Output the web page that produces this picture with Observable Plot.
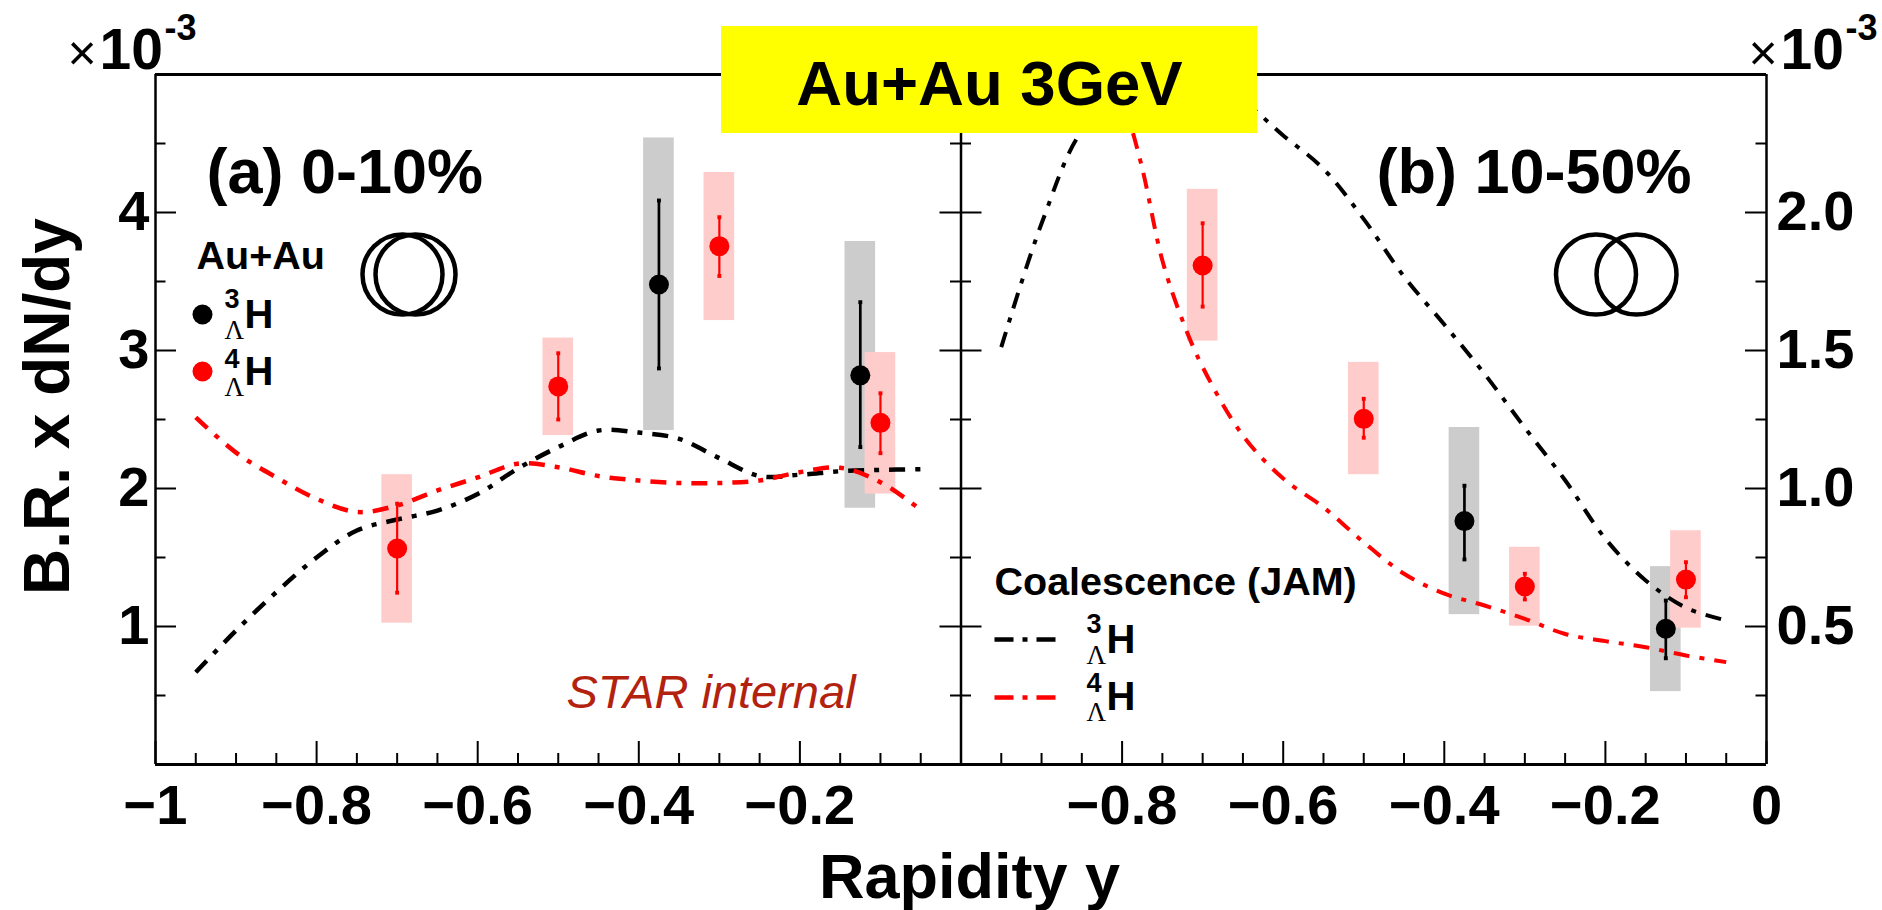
<!DOCTYPE html>
<html>
<head>
<meta charset="utf-8">
<style>
html,body{margin:0;padding:0;background:#fff}
svg{display:block}
</style>
<script src="https://cdn.jsdelivr.net/npm/d3@7"></script>
<script src="https://cdn.jsdelivr.net/npm/@observablehq/plot@0.6"></script>
</head>
<body>
<script>
// Curve rapidity grid
const gridA = [-0.95,-0.9,-0.85,-0.8,-0.75,-0.7,-0.65,-0.6,-0.55,-0.5,-0.45,-0.4,-0.35,-0.3,-0.25,-0.2,-0.15,-0.1,-0.05];
// Panel (a) JAM curves, units of 1e-3 on the left axis
const curveA3 = [0.669,0.971,1.249,1.50,1.696,1.775,1.84,1.96,2.145,2.30,2.42,2.405,2.36,2.22,2.09,2.10,2.125,2.135,2.14];
const curveA4 = [2.516,2.26,2.08,1.925,1.83,1.877,1.986,2.08,2.18,2.154,2.09,2.058,2.04,2.04,2.058,2.118,2.15,2.046,1.845];
// Panel (b) JAM curves, units of 1e-3 on the right axis
const gridB3 = [-0.95,-0.9,-0.85,-0.8,-0.75,-0.7,-0.65,-0.6,-0.55,-0.5,-0.45,-0.4,-0.35,-0.3,-0.25,-0.2,-0.15,-0.1,-0.05];
const curveB3 = [1.512,1.96,2.295,2.42,2.45,2.45,2.40,2.279,2.158,1.976,1.768,1.594,1.415,1.22,1.03,0.818,0.667,0.568,0.522];
const gridB4 = [-0.8,-0.775,-0.75,-0.725,-0.7,-0.65,-0.6,-0.55,-0.5,-0.45,-0.4,-0.35,-0.3,-0.25,-0.2,-0.15,-0.1,-0.05];
const curveB4 = [2.43,2.16,1.826,1.609,1.44,1.192,1.036,0.932,0.805,0.691,0.619,0.576,0.528,0.473,0.447,0.425,0.395,0.371];
// Panel (a) measurements: rapidity, value, stat low/high, sys low/high
const a3Y = [-0.375,-0.125], a3V = [3.478,2.82], a3L = [2.87,2.30], a3H = [4.087,3.35], a3SL = [2.42,1.857], a3SH = [4.54,3.79];
const a4Y = [-0.7,-0.5,-0.3,-0.1], a4V = [1.565,2.74,3.756,2.476], a4L = [1.245,2.5,3.54,2.256], a4H = [1.89,2.98,3.966,2.69], a4SL = [1.024,2.384,3.217,1.96], a4SH = [2.10,3.09,4.29,2.985];
// Panel (b) measurements
const b3Y = [-0.375,-0.125], b3V = [0.882,0.492], b3L = [0.743,0.385], b3H = [1.01,0.594], b3SL = [0.543,0.264], b3SH = [1.221,0.717];
const b4Y = [-0.7,-0.5,-0.3,-0.1], b4V = [1.808,1.2525,0.645,0.67], b4L = [1.659,1.184,0.598,0.606], b4H = [1.961,1.325,0.691,0.733], b4SL = [1.534,1.05,0.501,0.494], b4SH = [2.084,1.457,0.787,0.847];

const BLACK = "#000", RED = "#ff0000", GREY = "#cccccc", PINK = "#ffcccc";
const DASH = "16 10 5 10", LEGEND_DASH = "19 9 5 9";

// Shared x scale: panel (a) occupies [-1,0], panel (b) occupies [0,1].
// Shared y scale is the left axis: panel (b) right-axis values count double.
const toA = (y,v) => ({x:y, v});
const toB = (y,v) => ({x:y+1, v:v*2});
const line = (grid,vals,map) => grid.map((g,i)=>map(g,vals[i]));
const meas = (Y,V,L,H,SL,SH,panelB) => Y.map((y,i)=>{
  const k = panelB?2:1, o = panelB?1:0;
  return {x:y+o, v:V[i]*k, l:L[i]*k, h:H[i]*k, sl:SL[i]*k, sh:SH[i]*k};
});
const a3 = meas(a3Y,a3V,a3L,a3H,a3SL,a3SH,false);
const a4 = meas(a4Y,a4V,a4L,a4H,a4SL,a4SH,false);
const b3 = meas(b3Y,b3V,b3L,b3H,b3SL,b3SH,true);
const b4 = meas(b4Y,b4V,b4L,b4H,b4SL,b4SH,true);
const BOX = 0.019;

const W=1882,H=910,ML=155,MR=116,MT=74,MB=146;
const fw = W-ML-MR, fh = H-MT-MB;
const X = px => -1 + 2*(px-ML)/fw;
const Y = py => 5*(H-MB-py)/fh;

const range = (a,b,s)=>d3.range(Math.round((b-a)/s)+1).map(i=>+(a+i*s).toFixed(3));
const allX = range(-1,1,0.05);
const majorX = range(-1,1,0.2);
const minorX = allX.filter(t=>!majorX.some(m=>Math.abs(m-t)<1e-6));
const majorY = [1,2,3,4];
const minorY = [0.5,1.5,2.5,3.5,4.5];
const xLabel = d => { const v = d<0 ? d : d-1; return Math.abs(v)<1e-9 ? "0" : "\u2212"+(+Math.abs(v).toFixed(1)); };

const text = (s,px,py,size,extra={}) => Plot.text([s],{x:X(px),y:Y(py),text:d=>d,fontSize:size,textAnchor:"start",lineAnchor:"bottom",fill:BLACK,...extra});
const isotope = (num,px,base,numUp) => [
  text(num,px-1,base-numUp,27),
  text("H",px+19,base,40),
  text("\u039b",px-1,base+11,27,{fontWeight:"normal",fontFamily:"'Liberation Serif',serif"})
];
const yTick = (vals,len,where) => Plot.tickY(vals,{y:d=>d,stroke:BLACK,strokeWidth:2,
  insetLeft: where==="left"?0 : where==="mid"?fw/2-len : fw-len,
  insetRight: where==="left"?fw-len : where==="mid"?fw/2-len : 0});
const boxes = (arr,fill)=>Plot.rectY(arr,{x1:d=>d.x-BOX,x2:d=>d.x+BOX,y1:"sl",y2:"sh",fill});
const errs = (arr,c,w)=>[
  Plot.ruleX(arr,{x:"x",y1:"l",y2:"h",stroke:c,strokeWidth:w}),
  Plot.dot(arr,{x:"x",y:"l",symbol:"square",r:2.2,fill:c}),
  Plot.dot(arr,{x:"x",y:"h",symbol:"square",r:2.2,fill:c}),
  Plot.dot(arr,{x:"x",y:"v",r:10,fill:c})
];
const curve = (data,c,w)=>Plot.line(data,{x:"x",y:"v",stroke:c,strokeWidth:w,strokeDasharray:DASH,strokeLinecap:"butt",curve:"catmull-rom",strokeLinejoin:"round"});
const legendLine = (py,c)=>Plot.line([X(994),X(1055)],{x:d=>d,y:Y(py),stroke:c,strokeWidth:4.5,strokeDasharray:LEGEND_DASH,strokeLinecap:"butt"});
const multiplier = (dx) => [
  text("\u00d7",67+dx,69,50,{fontWeight:"normal"}),
  text("10",99+dx,68,57),
  text("-3",164+dx,39,36)
];

const chart = Plot.plot({
  width:W,height:H,marginLeft:ML,marginRight:MR,marginTop:MT,marginBottom:MB,
  style:{fontFamily:"'Liberation Sans',Arial,sans-serif",fontWeight:"bold",background:"#fff",overflow:"visible",color:"#000"},
  x:{domain:[-1,1],label:null},
  y:{domain:[0,5],label:null},
  marks:[
    boxes(a3,GREY),boxes(b3,GREY),boxes(a4,PINK),boxes(b4,PINK),
    curve(line(gridA,curveA3,toA),BLACK,4.5),
    curve(line(gridA,curveA4,toA),RED,4.5),
    curve(line(gridB3,curveB3,toB),BLACK,4),
    curve(line(gridB4,curveB4,toB),RED,4),
    ...errs(a3,BLACK,2.7),...errs(a4,RED,2.2),...errs(b3,BLACK,2.7),...errs(b4,RED,2.2),

    // frame and ticks
    Plot.ruleX([-1,0,1],{x:d=>d,stroke:BLACK,strokeWidth:2.5}),
    Plot.ruleY([0,5],{y:d=>d,stroke:BLACK,strokeWidth:3}),
    Plot.tickX(majorX,{x:d=>d,stroke:BLACK,strokeWidth:2,insetTop:fh-23}),
    Plot.tickX(minorX,{x:d=>d,stroke:BLACK,strokeWidth:2,insetTop:fh-11}),
    yTick(majorY,21,"left"),yTick(minorY,10.5,"left"),
    yTick(majorY,21,"mid"),yTick(minorY,10.5,"mid"),
    yTick(majorY,21,"right"),yTick(minorY,10.5,"right"),

    // axes labels
    Plot.axisX(majorX.filter(d=>Math.abs(d)>1e-6),{anchor:"bottom",tickSize:0,tickPadding:20,tickFormat:xLabel,fontSize:56,label:null}),
    Plot.axisY(majorY,{anchor:"left",tickSize:0,tickPadding:6,tickFormat:d=>String(d),fontSize:56,label:null}),
    Plot.axisY(majorY,{anchor:"right",tickSize:0,tickPadding:10,tickFormat:d=>(d/2).toFixed(1),fontSize:56,label:null}),
    text("Rapidity y",969,897,63,{textAnchor:"middle"}),
    Plot.text(["B.R. x dN/dy"],{x:X(68),y:Y(406),text:d=>d,rotate:-90,fontSize:64,textAnchor:"middle",lineAnchor:"bottom"}),

    // multipliers
    ...multiplier(0),
    ...multiplier(1681),

    // panel labels
    text("(a) 0-10%",206,192,63),
    text("(b) 10-50%",1376,192,63),

    // collision rings
    Plot.dot([X(402),X(415)],{x:d=>d,y:Y(274),r:40,stroke:BLACK,strokeWidth:4.5,fill:"none"}),
    Plot.dot([X(1595.5),X(1636)],{x:d=>d,y:Y(274),r:40,stroke:BLACK,strokeWidth:4.5,fill:"none"}),

    // data legend
    text("Au+Au",196,268,39.5),
    Plot.dot([BLACK],{x:X(202),y:Y(314),r:10,fill:d=>d}),
    Plot.dot([RED],{x:X(202),y:Y(371),r:10,fill:d=>d}),
    ...isotope("3",225,327,20),
    ...isotope("4",225,384,17),

    // coalescence legend
    text("Coalescence (JAM)",994,594,39.5),
    legendLine(639,BLACK),
    legendLine(697,RED),
    ...isotope("3",1087,652,20),
    ...isotope("4",1087,709,18),

    text("STAR internal",566,707,47,{fontWeight:"normal",fontStyle:"italic",fill:"#b2220e"}),

    // banner
    Plot.rect([0],{x1:X(721),x2:X(1257),y1:Y(133),y2:Y(26),fill:"#ffff00"}),
    text("Au+Au 3GeV",989,104,63.5,{textAnchor:"middle"})
  ]
});
document.body.appendChild(chart);
</script>
</body>
</html>
